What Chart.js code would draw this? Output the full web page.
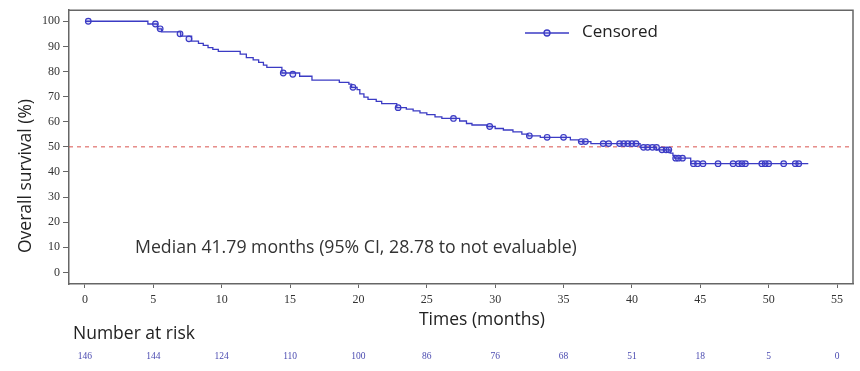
<!DOCTYPE html>
<html>
<head>
<meta charset="utf-8">
<script src="https://cdn.jsdelivr.net/npm/chart.js@4"></script>
<style>
html, body { margin: 0; padding: 0; background: #fff; }
</style>
</head>
<body>
<canvas id="kmChart" width="860" height="371"></canvas>
<script>
// Kaplan-Meier steps: survival (%) from each time on
const stepTimes  = [0, 4.6, 5.3, 5.6, 7.0, 7.8, 8.3, 8.65, 9.0, 9.35, 9.75, 11.35, 11.8, 12.3, 12.7, 13.05, 13.3, 14.4, 15.7, 16.6, 18.6, 19.3, 19.5, 19.9, 20.1, 20.4, 20.7, 21.3, 21.7, 22.8, 23.5, 24.0, 24.5, 25.0, 25.6, 26.1, 27.4, 27.9, 28.3, 29.4, 30.0, 30.6, 31.3, 31.95, 32.4, 33.3, 35.5, 36.1, 37.0, 40.6, 41.8, 42.8, 43.0, 43.1, 44.3, 52.9];
const stepValues = [100, 98.9, 97.0, 95.8, 94.1, 92.1, 91.2, 90.4, 89.5, 88.8, 88.0, 86.9, 85.5, 84.6, 83.6, 82.5, 81.6, 79.4, 78.1, 76.6, 75.7, 75.0, 73.7, 72.8, 71.1, 69.8, 68.9, 68.1, 67.2, 65.6, 65.0, 64.3, 63.5, 62.8, 61.9, 61.3, 60.3, 59.3, 58.7, 58.1, 57.3, 56.7, 56.0, 55.1, 54.4, 53.8, 52.8, 52.1, 51.3, 49.8, 48.8, 47.5, 46.6, 45.5, 43.3, 43.3];

// censored observations
const censorTimes  = [0.24, 5.15, 5.5, 6.95, 7.6, 14.5, 15.2, 19.6, 22.9, 26.95, 29.6, 32.5, 33.8, 35.0, 36.3, 36.6, 37.9, 38.3, 39.1, 39.4, 39.7, 40.0, 40.3, 40.85, 41.15, 41.5, 41.8, 42.2, 42.5, 42.7, 43.2, 43.4, 43.7, 44.5, 44.8, 45.2, 46.3, 47.4, 47.8, 48.05, 48.3, 49.5, 49.75, 50.0, 51.1, 51.95, 52.2];
const censorValues = [100, 98.9, 97.0, 95.0, 93.0, 79.4, 78.9, 73.7, 65.6, 61.3, 58.1, 54.4, 53.8, 53.8, 52.1, 52.1, 51.3, 51.3, 51.3, 51.3, 51.3, 51.3, 51.3, 49.8, 49.8, 49.8, 49.8, 48.8, 48.8, 48.8, 45.5, 45.5, 45.5, 43.3, 43.3, 43.3, 43.3, 43.3, 43.3, 43.3, 43.3, 43.3, 43.3, 43.3, 43.3, 43.3, 43.3];

const medianLine = 50;
const xTicks = [0, 5, 10, 15, 20, 25, 30, 35, 40, 45, 50, 55];
const yTicks = [0, 10, 20, 30, 40, 50, 60, 70, 80, 90, 100];
const atRisk = [146, 144, 124, 110, 100, 86, 76, 68, 51, 18, 5, 0];

const xMin = -1.17, xMax = 56.17;
const yMin = -4.6, yMax = 104.4;

const blue = '#3b3bc4';
const sans = "'Open Sans', 'Noto Sans', sans-serif";
const serif = "'Liberation Serif', 'DejaVu Serif', serif";

// frame, legend and texts around the plot
const extras = {
    id: 'extras',
    afterDraw(chart) {
        const { ctx, chartArea: a, scales } = chart;
        ctx.save();
        ctx.strokeStyle = '#666';
        ctx.lineWidth = 1.5;
        ctx.beginPath();
        ctx.moveTo(a.left, a.top);
        ctx.lineTo(a.right, a.top);
        ctx.lineTo(a.right, a.bottom);
        ctx.stroke();

        // legend
        ctx.strokeStyle = blue;
        ctx.lineWidth = 1.3;
        ctx.beginPath();
        ctx.moveTo(525, 33);
        ctx.lineTo(569, 33);
        ctx.stroke();
        ctx.beginPath();
        ctx.arc(547, 33, 3, 0, Math.PI * 2);
        ctx.fillStyle = 'rgba(120,120,230,0.25)';
        ctx.fill();
        ctx.stroke();

        ctx.fillStyle = '#222';
        ctx.font = '17px ' + sans;
        ctx.textBaseline = 'middle';
        ctx.textAlign = 'left';
        ctx.fillText('Censored', 582, 32);

        ctx.fillStyle = '#333';
        ctx.font = '17.7px ' + sans;
        ctx.fillText('Median 41.79 months (95% CI, 28.78 to not evaluable)', 135, 248);

        ctx.fillStyle = '#222';
        ctx.font = '17.5px ' + sans;
        ctx.fillText('Number at risk', 73, 334);
        ctx.textAlign = 'center';
        ctx.fillText('Times (months)', 482, 320);

        ctx.save();
        ctx.translate(26, 176);
        ctx.rotate(-Math.PI / 2);
        ctx.fillText('Overall survival (%)', 0, 0);
        ctx.restore();

        // number at risk row
        ctx.fillStyle = '#4a4ab0';
        ctx.font = '9.5px ' + serif;
        xTicks.forEach((t, i) => {
            ctx.fillText(String(atRisk[i]), scales.x.getPixelForValue(t), 356);
        });
        ctx.restore();
    }
};

const ctx = document.getElementById('kmChart').getContext('2d');
const kmChart = new Chart(ctx, {
    type: 'line',
    data: {
        datasets: [{
            label: 'Overall survival',
            data: stepTimes.map((t, i) => ({ x: t, y: stepValues[i] })),
            stepped: 'before',
            borderColor: blue,
            borderWidth: 1.3,
            pointRadius: 0,
            fill: false
        }, {
            label: 'Censored',
            data: censorTimes.map((t, i) => ({ x: t, y: censorValues[i] })),
            showLine: false,
            pointStyle: 'circle',
            pointRadius: 2.8,
            pointBorderWidth: 1.2,
            pointBorderColor: blue,
            pointBackgroundColor: 'rgba(120,120,230,0.25)'
        }, {
            label: 'Median',
            data: [{ x: xMin, y: medianLine }, { x: xMax, y: medianLine }],
            borderColor: '#d9534f',
            borderWidth: 1,
            borderDash: [4, 4],
            pointRadius: 0,
            fill: false
        }]
    },
    options: {
        responsive: false,
        animation: false,
        devicePixelRatio: 1,
        layout: { padding: { top: 7, right: 7, left: 0, bottom: 0 } },
        plugins: {
            legend: { display: false },
            tooltip: { enabled: false }
        },
        scales: {
            x: {
                type: 'linear',
                min: xMin,
                max: xMax,
                afterBuildTicks: s => { s.ticks = xTicks.map(v => ({ value: v })); },
                afterFit: s => { s.height = 87; },
                grid: { drawOnChartArea: false, drawTicks: true, tickLength: 4, color: '#666' },
                border: { display: true, color: '#666', width: 1.5 },
                ticks: { color: '#333', padding: 5, maxRotation: 0, font: { family: serif, size: 12 } }
            },
            y: {
                min: yMin,
                max: yMax,
                afterBuildTicks: s => { s.ticks = yTicks.map(v => ({ value: v })); },
                afterFit: s => { s.width = 69; },
                grid: { drawOnChartArea: false, drawTicks: true, tickLength: 6, color: '#666' },
                border: { display: true, color: '#666', width: 1.5 },
                ticks: { color: '#333', padding: 3, font: { family: serif, size: 12 } }
            }
        }
    },
    plugins: [extras]
});
</script>
</body>
</html>
